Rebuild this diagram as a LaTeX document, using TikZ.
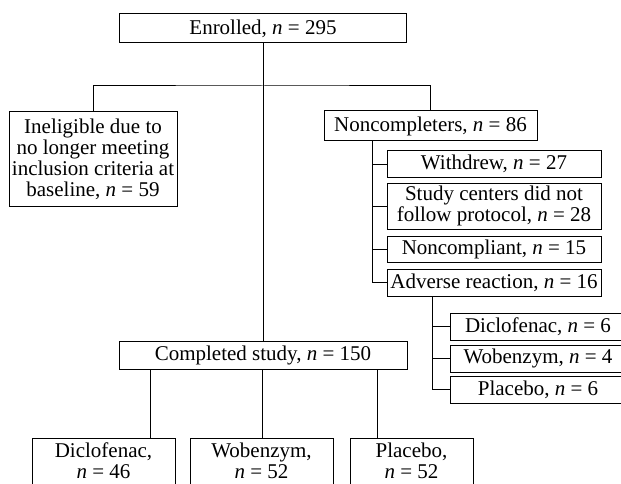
\documentclass[tikz,border=0pt]{standalone}
\usepackage{fontspec}
\setmainfont{Liberation Serif}
\tikzset{
  >=latex,
}
\tikzstyle{box}=[draw,line width=1pt,inner sep=0pt,align=center]
\tikzstyle{link}=[line width=1pt]
\tikzstyle{every node}=[font=\fontsize{21}{21}\selectfont]

\begin{document}
\begin{tikzpicture}[x=1pt,y=-1pt]
        \useasboundingbox (0,0) rectangle (621,484);
        \node[box,minimum width=287,minimum height=29] (enrolled) at (263,28.5)
        {Enrolled, \textit{n} = 295};
        \node[box,minimum width=168,minimum height=94] (inelig) at (93,159)
        {Ineligible due to\\no longer meeting\\inclusion criteria at\\baseline, \textit{n} = 59};
        \node[box,minimum width=213,minimum height=30] (noncomp) at (430.5,126)
        {Noncompleters, \textit{n} = 86};
        \node[box,minimum width=214,minimum height=26] (withdrew) at (494,164)
        {Withdrew, \textit{n} = 27};
        \node[box,minimum width=214,minimum height=46] (centers) at (494,206)
        {Study centers did not\\follow protocol, \textit{n} = 28};
        \node[box,minimum width=214,minimum height=26] (noncompliant) at (494,249)
        {Noncompliant, \textit{n} = 15};
        \node[box,minimum width=214,minimum height=27] (adverse) at (494,282.5)
        {Adverse reaction, \textit{n} = 16};
        \node[box,minimum width=176,minimum height=27] (subdic) at (538,326.5)
        {Diclofenac, \textit{n} = 6};
        \node[box,minimum width=176,minimum height=27] (subwob) at (538,358.5)
        {Wobenzym, \textit{n} = 4};
        \node[box,minimum width=176,minimum height=27] (subplac) at (538,389.5)
        {Placebo, \textit{n} = 6};
        \node[box,minimum width=288,minimum height=28] (completed) at (263,355)
        {Completed study, \textit{n} = 150};
        \node[box,minimum width=143,minimum height=46] (botdic) at (103.5,461)
        {Diclofenac,\\\textit{n} = 46};
        \node[box,minimum width=143,minimum height=46] (botwob) at (261.5,461)
        {Wobenzym,\\\textit{n} = 52};
        \node[box,minimum width=123,minimum height=46] (botplac) at (411.5,461)
        {Placebo,\\\textit{n} = 52};
        \coordinate (split) at (263,86);
        \coordinate (lad) at (372,0);
        \coordinate (sublad) at (432,0);
        \coordinate (c1) at (150,0);
        \coordinate (c2) at (262,0);
        \coordinate (c3) at (377,0);
        \draw[link] (enrolled) -- (completed);
        \draw[link] (inelig.north) |- (split) -| (noncomp.north);
        \draw[link] (noncomp.south -| lad) |- (adverse.west);
        \foreach \n in {withdrew,centers,noncompliant}
        \draw[link] (lad |- \n.west) -- (\n.west);
        \draw[link] (adverse.south -| sublad) |- (subplac.west);
        \foreach \n in {subdic,subwob}
        \draw[link] (sublad |- \n.west) -- (\n.west);
        \draw[link] (completed.south -| c1) -- (botdic.north -| c1);
        \draw[link] (completed.south -| c2) -- (botwob.north -| c2);
        \draw[link] (completed.south -| c3) -- (botplac.north -| c3);
      \end{tikzpicture}
\end{document}
